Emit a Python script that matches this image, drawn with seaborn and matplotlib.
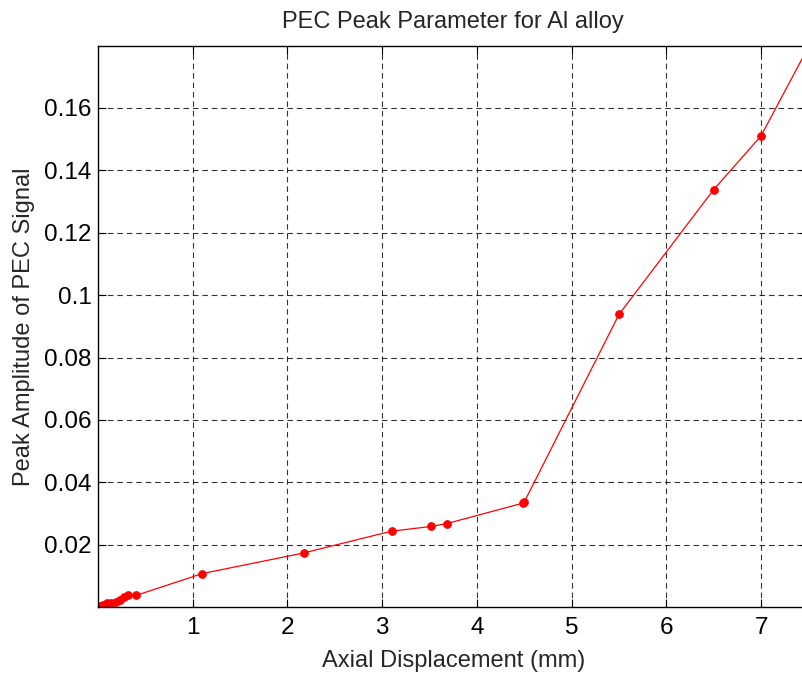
import matplotlib
matplotlib.use("Agg")
import matplotlib.pyplot as plt
import seaborn as sns
import pandas as pd

displacement_mm = [0.02, 0.05, 0.09, 0.14, 0.19, 0.23, 0.27, 0.32, 0.40,
                   1.10, 2.17, 3.10, 3.52, 3.68, 4.49, 4.50, 5.50, 6.50, 7.00, 7.50]
peak_amplitude = [0.0003, 0.0006, 0.0013, 0.0015, 0.0018, 0.0023, 0.0032, 0.0038, 0.0038,
                  0.0108, 0.0174, 0.0244, 0.0259, 0.0268, 0.0334, 0.0337, 0.0938, 0.1338, 0.1510, 0.1795]
x_ticks = [1, 2, 3, 4, 5, 6, 7]
y_ticks = [0.02, 0.04, 0.06, 0.08, 0.1, 0.12, 0.14, 0.16]
y_tick_labels = ["0.02", "0.04", "0.06", "0.08", "0.1", "0.12", "0.14", "0.16"]

df = pd.DataFrame({"x": displacement_mm, "y": peak_amplitude})

sns.set_style("white")
plt.rcParams["font.family"] = ["Liberation Sans", "DejaVu Sans"]

fig = plt.figure(figsize=(8.03, 6.75), dpi=100)
ax = fig.add_axes([98 / 803, 68 / 675, 710.4 / 803, 561 / 675])

sns.lineplot(data=df, x="x", y="y", ax=ax, sort=False, color="red",
             marker="o", markersize=5.5, markeredgecolor="red", linewidth=0.9,
             clip_on=True)

ax.set_xlim(0, 7.5)
ax.set_ylim(0.0001, 0.1798)
ax.set_xticks(x_ticks)
ax.set_xticklabels([str(t) for t in x_ticks])
ax.set_yticks(y_ticks)
ax.set_yticklabels(y_tick_labels)

ax.grid(True, color="black", linestyle=(0, (5, 3.5)), linewidth=0.8, alpha=0.8)
ax.set_axisbelow(True)

for s in ax.spines.values():
    s.set_color("black")
    s.set_linewidth(1.0)

ax.tick_params(axis="both", direction="in", length=6, width=0.8, colors="black",
               labelsize=17.5, top=True, right=True, bottom=True, left=True)
ax.tick_params(axis="x", pad=7)
ax.tick_params(axis="y", pad=4.5)

ax.set_xlabel("Axial Displacement (mm)", fontsize=17, labelpad=8)
ax.set_ylabel("Peak Amplitude of PEC Signal", fontsize=17, labelpad=7)
ax.set_title("PEC Peak Parameter for Al alloy", fontsize=17, pad=13)

fig.savefig("out.png", dpi=100)
